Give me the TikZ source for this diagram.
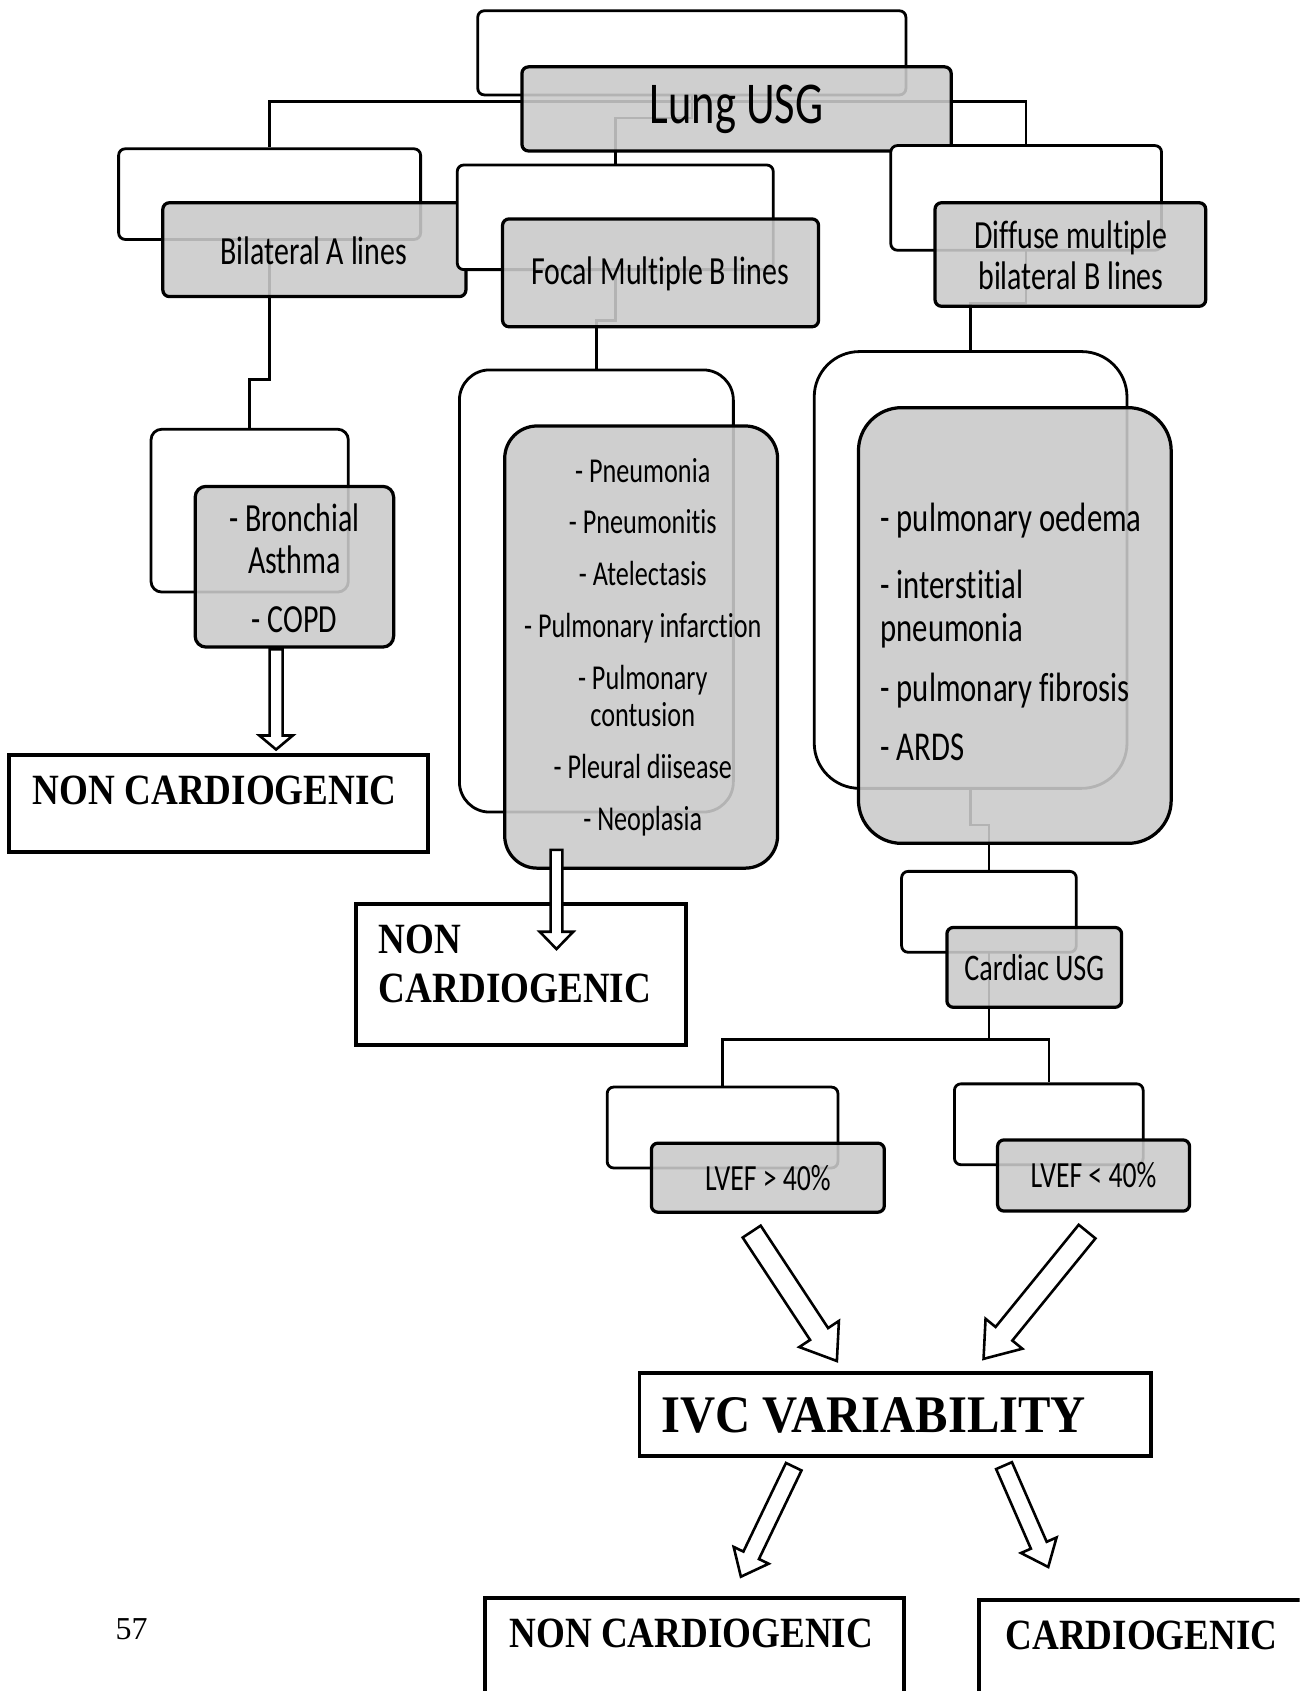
\documentclass[tikz,border=0pt]{standalone}
\usepackage{fontspec}
\setmainfont{Liberation Serif}
\newfontfamily\cfont[FakeStretch=0.75,Ligatures=NoCommon]{Carlito}
\newfontfamily\tfont[FakeStretch=0.86]{Liberation Serif}
\newfontfamily\tbigfont[FakeStretch=0.92]{Liberation Serif}
\usetikzlibrary{fit,calc,backgrounds}
\definecolor{boxgray}{RGB}{202,202,202}
\tikzset{
 wbox/.style={draw, line width=1.3pt, fill=white, rounded corners=3pt, inner sep=0pt},
 gbox/.style={draw, line width=1.5pt, fill=boxgray, fill opacity=0.89, rounded corners=3pt, inner sep=0pt},
 gtext/.style={inner sep=0pt, align=center},
 pbox/.style={draw, line width=1.8pt, fill=white, inner sep=0pt},
 conn/.style={line width=1.2pt},
 harr/.style={draw, line width=1.2pt, fill=white, line join=miter},
 ttext/.style={font=\tfont\bfseries\fontsize{20pt}{22.5pt}\selectfont, inner sep=0pt, align=left, anchor=west},
}
\newcommand\blockarr[5]{%
  \coordinate (hb) at ($(#2)!#5!(#1)$);
  \draw[harr] ($(#1)!#3!90:(#2)$) -- ($(hb)!#3!90:(#2)$) -- ($(hb)!#4!90:(#2)$) -- (#2)
     -- ($(hb)!#4!-90:(#2)$) -- ($(hb)!#3!-90:(#2)$) -- ($(#1)!#3!-90:(#2)$) -- cycle;}
\begin{document}
\begin{tikzpicture}[x=0.5pt,y=-0.5pt]
\path[use as bounding box] (0,0) rectangle (1205,1568);
\clip (0,0) rectangle (1205,1568);
% hierarchy boxes
\node[wbox, fit={(443,10) (840,88)}] (lungW) {};
\node[gbox, fit={(484,62) (882,140)}] (lungG) {};
\node[gtext, font=\cfont\fontsize{27.5pt}{30pt}\selectfont] (lungT) at (683,101) {Lung USG};
\node[wbox, fit={(110,138) (390,222)}] (bilW) {};
\node[gbox, fit={(151,188) (432,275)}] (bilG) {};
\node[gtext, font=\cfont\fontsize{18.5pt}{20pt}\selectfont] (bilT) at (291,233) {Bilateral A lines};
\node[wbox, fit={(424,153) (717,250)}] (focW) {};
\node[gbox, fit={(466,203) (759,303)}] (focG) {};
\node[gtext, font=\cfont\fontsize{18.5pt}{20pt}\selectfont] (focT) at (612,254) {Focal Multiple B lines};
\node[wbox, fit={(826,135) (1077,232)}] (difW) {};
\node[gbox, fit={(867,188) (1118,284)}] (difG) {};
\node[gtext, font=\cfont\fontsize{18.5pt}{19pt}\selectfont] (difT) at (993,237) {Diffuse multiple\\bilateral B lines};
\node[wbox, rounded corners=5pt, fit={(140,398) (323,549)}] (bronW) {};
\node[gbox, rounded corners=5pt, fit={(181,451) (365,600)}] (bronG) {};
\node[gtext, font=\cfont\fontsize{18.5pt}{19.5pt}\selectfont] (bronT) at (273,527) {- Bronchial\\Asthma\\[8pt]- COPD};
\node[wbox, rounded corners=14pt, fit={(426,343) (680,753)}] (pnW) {};
\node[gbox, rounded corners=15pt, fit={(468,395) (721,805)}] (pnG) {};
\node[gtext, font=\cfont\fontsize{16.2pt}{17.5pt}\selectfont] (pnT) at (596,600) {- Pneumonia\\[6.5pt]- Pneumonitis\\[6.5pt]- Atelectasis\\[6.5pt]- Pulmonary infarction\\[6.5pt]- Pulmonary\\contusion\\[6.5pt]- Pleural diisease\\[6.5pt]- Neoplasia};
\node[wbox, rounded corners=21pt, fit={(755,326) (1045,731)}] (dlW) {};
\node[gbox, rounded corners=20pt, fit={(796,378) (1086,782)}] (dlG) {};
\node[inner sep=0pt, align=left, anchor=west, font=\cfont\fontsize{19pt}{20pt}\selectfont] (dlT) at (816,586) {- pulmonary oedema\\[11pt]- interstitial\\pneumonia\\[8pt]- pulmonary fibrosis\\[7.5pt]- ARDS};
\node[wbox, fit={(836,808) (998,883)}] (caW) {};
\node[gbox, fit={(878,860) (1040,934)}] (caG) {};
\node[gtext, font=\cfont\fontsize{17.4pt}{19pt}\selectfont] (caT) at (959,897) {Cardiac USG};
\node[wbox, fit={(563,1008) (777,1083)}] (l1W) {};
\node[gbox, fit={(604,1060) (820,1124)}] (l1G) {};
\node[gtext, font=\cfont\fontsize{17.1pt}{19pt}\selectfont] (l1T) at (712,1092) {LVEF > 40\%};
\node[wbox, fit={(885,1005) (1060,1080)}] (l2W) {};
\node[gbox, fit={(925,1057) (1103,1123)}] (l2G) {};
\node[gtext, font=\cfont\fontsize{17.1pt}{19pt}\selectfont] (l2T) at (1014,1090) {LVEF < 40\%};
% connectors
\begin{pgfonlayer}{background}
\draw[conn] (lungW.south) -- ++(0,5) -| (bilW.north);
\draw[conn] (lungW.south) -- ++(0,5) -| (difW.north);
\draw[conn] (lungW.south) -- ++(0,20) -| (focW.north);
\draw[conn] (bilW.center) -- ++(0,172) -| (bronW.north);
\draw[conn] (focW.center) -- ++(0,95.5) -| (pnW.north);
\draw[conn] (difW.center) -- ++(0,97.5) -| (dlW.north);
\draw[conn] (dlW.center) -- ++(0,236.5) -| (caW.north);
\draw[conn] (caW.center) -- ++(0,118.5) -| (l1W.north);
\draw[conn] (caW.center) -- ++(0,118.5) -| (l2W.north);
\end{pgfonlayer}
% outcome boxes
\node[pbox, fit={(8,700) (397,790)}] (nc1) {};
\node[ttext] (nc1t) at (30,733) {NON CARDIOGENIC};
\node[pbox, fit={(330,838) (636,969)}] (nc2) {};
\node[ttext] (nc2t) at (351,894) {NON\\CARDIOGENIC};
\node[pbox, fit={(593,1273) (1067,1350)}] (ivc) {};
\node[ttext, font=\tbigfont\bfseries\fontsize{24.5pt}{27pt}\selectfont] (ivct) at (613,1312) {IVC VARIABILITY};
\node[pbox, fit={(450,1482) (838,1600)}] (nc3) {};
\node[ttext] (nc3t) at (472,1515) {NON CARDIOGENIC};
\node[pbox, fit={(908,1484) (1220,1600)}] (card) {};
\node[ttext] (cardt) at (932,1516) {CARDIOGENIC};
\node[font=\fontsize{14.8pt}{16pt}\selectfont, inner sep=0pt] (pg) at (122,1511) {57};
% block arrows
\coordinate (a1s) at (256,602); \coordinate (a1t) at (256,695);
\blockarr{a1s}{a1t}{3pt}{7.75pt}{6.5pt}
\coordinate (a2s) at (516,788); \coordinate (a2t) at (516,880);
\blockarr{a2s}{a2t}{2.75pt}{7.75pt}{8pt}
\coordinate (a3s) at (697,1142); \coordinate (a3t) at (776,1262);
\blockarr{a3s}{a3t}{5pt}{11pt}{15pt}
\coordinate (a4s) at (1008,1142); \coordinate (a4t) at (912,1260);
\blockarr{a4s}{a4t}{5pt}{11pt}{15pt}
\coordinate (a5s) at (736,1360); \coordinate (a5t) at (687,1462);
\blockarr{a5s}{a5t}{4pt}{9pt}{11pt}
\coordinate (a6s) at (931,1359); \coordinate (a6t) at (972,1453);
\blockarr{a6s}{a6t}{4pt}{9pt}{11pt}
\end{tikzpicture}
\end{document}
